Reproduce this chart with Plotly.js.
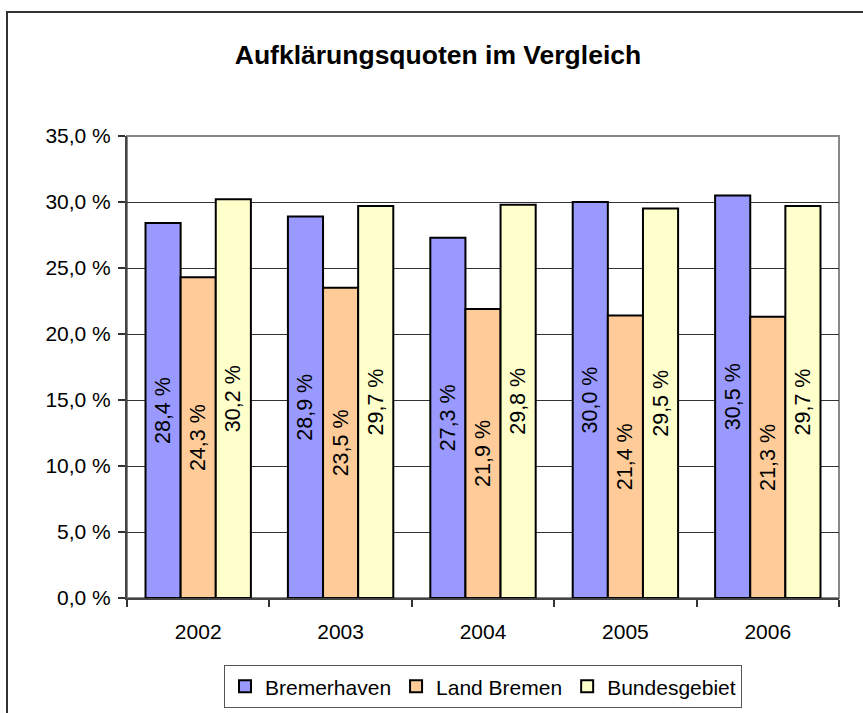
<!DOCTYPE html>
<html>
<head>
<meta charset="utf-8">
<script src="https://cdn.plot.ly/plotly-3.0.1.min.js"></script>
<style>
  html, body { margin: 0; padding: 0; background: #fff; overflow: hidden; }
  #chart { width: 863px; height: 713px; }
  #frame { position: absolute; left: 6px; top: 11px; width: 900px; height: 800px;
           border: 2px solid #333; pointer-events: none; }
</style>
</head>
<body>
<div id="chart"></div>
<div id="frame"></div>
<script>
const years = ['2002', '2003', '2004', '2005', '2006'];
const bremerhaven = [28.4, 28.9, 27.3, 30.0, 30.5];
const landBremen = [24.3, 23.5, 21.9, 21.4, 21.3];
const bundesgebiet = [30.2, 29.7, 29.8, 29.5, 29.7];
const tickVals = [0, 5, 10, 15, 20, 25, 30, 35];
const tickLabels = ['0,0 %', '5,0 %', '10,0 %', '15,0 %', '20,0 %', '25,0 %', '30,0 %', '35,0 %'];

const fmt = v => v.toFixed(1).replace('.', ',') + ' %';
const FONT = '"Liberation Sans", Arial, sans-serif';

function series(name, vals, color) {
  return {
    type: 'bar', name: name, x: years, y: vals,
    text: vals.map(fmt),
    textposition: 'inside', insidetextanchor: 'middle', textangle: -90,
    constraintext: 'none',
    textfont: { family: FONT, size: 21.5, color: '#000' },
    marker: { color: color, line: { color: '#000', width: 2 } },
    hoverinfo: 'none'
  };
}

const data = [
  series('Bremerhaven', bremerhaven, '#9999FF'),
  series('Land Bremen', landBremen, '#FFCC99'),
  series('Bundesgebiet', bundesgebiet, '#FFFFCC')
];

const layout = {
  width: 863, height: 713,
  margin: { l: 127, r: 24, t: 136, b: 115, autoexpand: false },
  paper_bgcolor: '#fff', plot_bgcolor: '#fff',
  font: { family: FONT, size: 21, color: '#000' },
  title: { text: '<b>Aufklärungsquoten im Vergleich</b>', font: { family: FONT, size: 26.5, color: '#000' },
           xref: 'container', x: 0.5075, xanchor: 'center', yref: 'container', y: 0.923, yanchor: 'middle' },
  barmode: 'group', bargap: 0.26, bargroupgap: 0,
  xaxis: { type: 'category', tickson: 'boundaries', ticks: 'outside', ticklen: 7, tickcolor: '#333', tickwidth: 2,
           showline: true, linecolor: '#444', linewidth: 2, showgrid: false, ticklabelstandoff: 14,
           tickfont: { family: FONT, size: 21 }, fixedrange: true },
  yaxis: { range: [0, 35], tickvals: tickVals, ticktext: tickLabels, ticks: 'outside', ticklen: 7,
           tickcolor: '#333', tickwidth: 2, showline: true, linecolor: '#444', linewidth: 2,
           showgrid: true, gridcolor: '#333', gridwidth: 1, zeroline: false, ticklabelstandoff: 3,
           tickfont: { family: FONT, size: 21 }, fixedrange: true },
  shapes: [{ type: 'rect', xref: 'paper', yref: 'paper', x0: 0, x1: 1, y0: 0, y1: 1,
             line: { color: '#888', width: 2 }, layer: 'below' }],
  showlegend: true,
  legend: { orientation: 'h', x: 0.5, xanchor: 'center', y: -0.192, yanchor: 'middle',
            bordercolor: '#555', borderwidth: 1, bgcolor: '#fff',
            font: { family: FONT, size: 21, color: '#000' }, itemwidth: 30, traceorder: 'normal' }
};

Plotly.newPlot('chart', data, layout, { displayModeBar: false, staticPlot: true });
</script>
</body>
</html>
